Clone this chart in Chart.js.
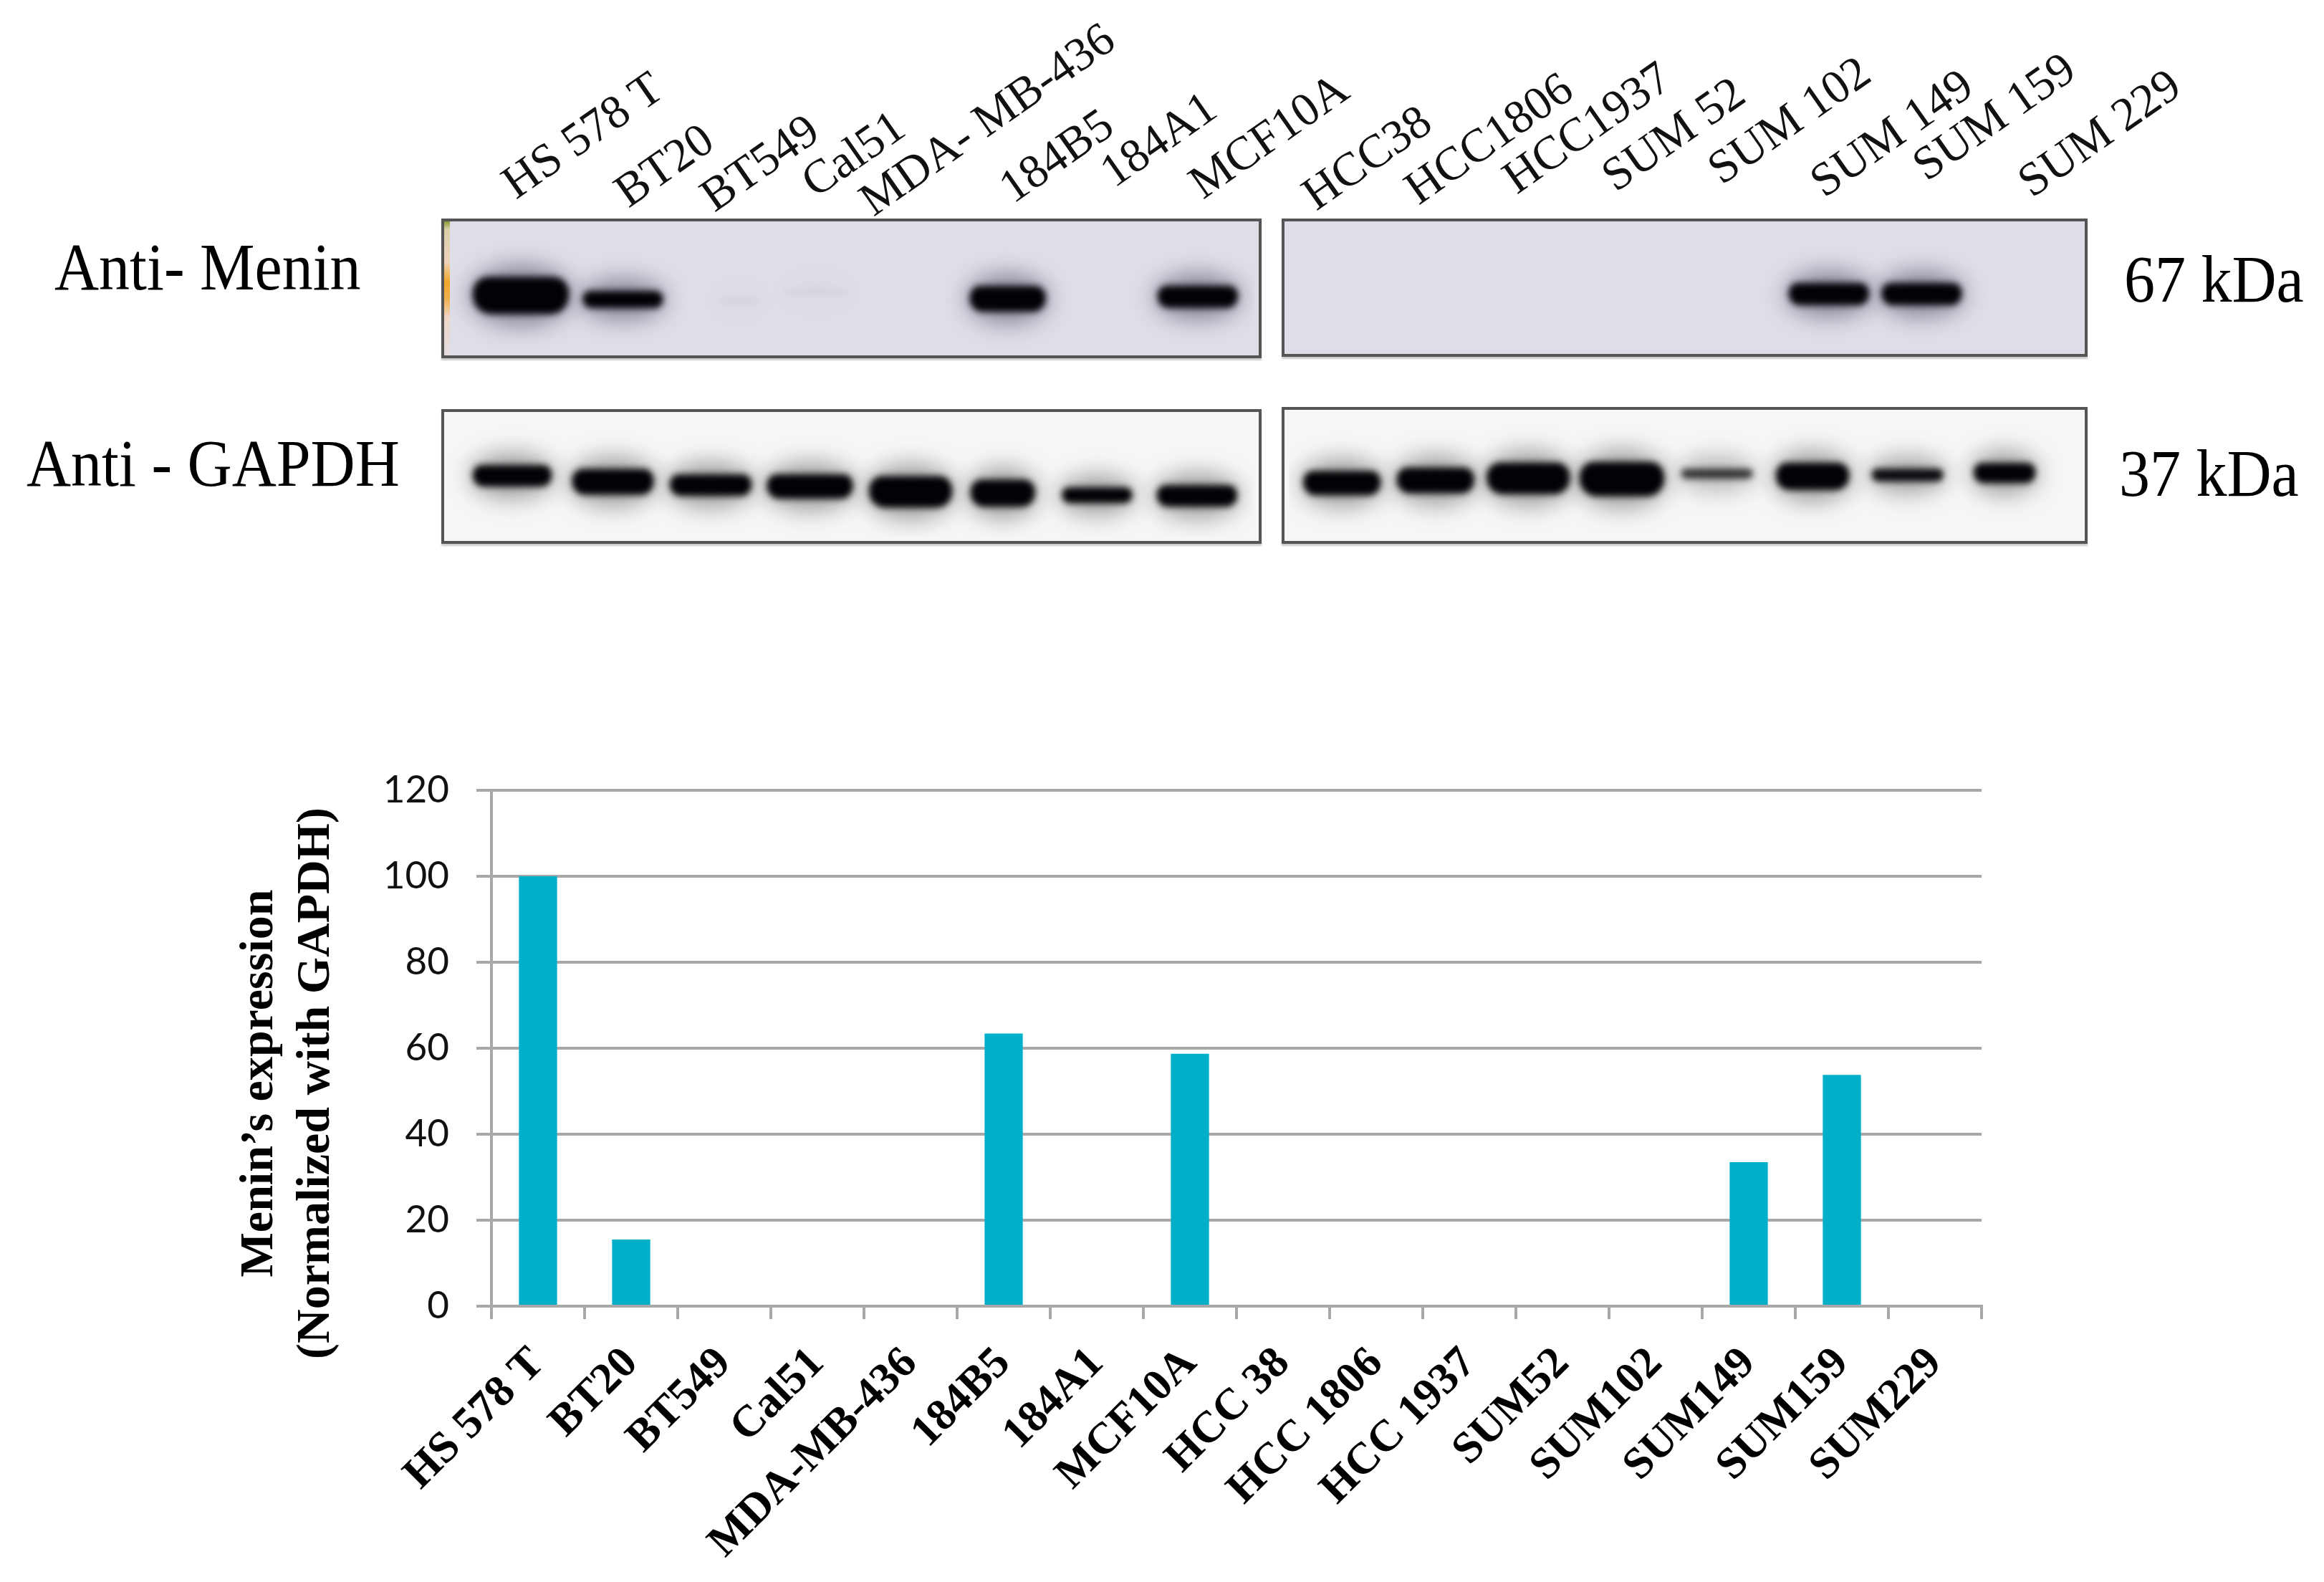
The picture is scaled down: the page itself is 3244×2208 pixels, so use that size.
<!DOCTYPE html>
<html>
<head>
<meta charset="utf-8">
<title>Menin expression</title>
<script src="https://cdn.jsdelivr.net/npm/chart.js@4"></script>
<style>
  html, body { margin: 0; padding: 0; background: #fff; }
  #page { position: relative; width: 3244px; height: 2208px; overflow: hidden; font-family: "Liberation Serif", serif; color: #000; }
  #page canvas { display: block; }
  .panel { position: absolute; box-sizing: border-box; border: 4px solid #555; box-shadow: 0 3px 2px #ccc; overflow: hidden; }
  .txt { position: absolute; white-space: nowrap; line-height: 1; }
  .lane { font-size: 66px; transform-origin: 0 0; transform: rotate(-35deg) translateY(-0.85em); color: #111; }
  .side { font-size: 86px; transform-origin: 0 0; transform: translateY(-0.92em) scaleY(1.08); }
  .ytitle { font-size: 66px; font-weight: bold; transform: translate(-50%, -50%) rotate(-90deg); }
  #barWrap { position: absolute; left: 0; top: 1033px; width: 2900px; height: 1175px; }
</style>
</head>
<body>
<div id="page">
  <div id="texts"></div>
  <div class="panel" id="pMeninL"><canvas id="cMeninL"></canvas></div>
  <div class="panel" id="pMeninR"><canvas id="cMeninR"></canvas></div>
  <div class="panel" id="pGapdhL"><canvas id="cGapdhL"></canvas></div>
  <div class="panel" id="pGapdhR"><canvas id="cGapdhR"></canvas></div>
  <div id="barWrap"><canvas id="barChart"></canvas></div>
</div>
<script>
// ── Bar chart data ───────────────────────────────────────────
const cellLines = ['HS 578 T', 'BT20', 'BT549', 'Cal51', 'MDA-MB-436', '184B5', '184A1', 'MCF10A',
    'HCC 38', 'HCC 1806', 'HCC 1937', 'SUM52', 'SUM102', 'SUM149', 'SUM159', 'SUM229'];
const meninExpression = [100, 15.5, 0, 0, 0, 63.4, 0, 58.7, 0, 0, 0, 0, 0, 33.5, 53.8, 0];
const yTickValues = [0, 20, 40, 60, 80, 100, 120];
const yTitleLines = ['Menin\u2019s expression', '(Normalized with GAPDH)'];

// ── Blot labels ──────────────────────────────────────────────
const laneLabels = ['HS 578 T', 'BT20', 'BT549', 'Cal51', 'MDA- MB-436', '184B5', '184A1', 'MCF10A',
    'HCC38', 'HCC1806', 'HCC1937', 'SUM 52', 'SUM 102', 'SUM 149', 'SUM 159', 'SUM 229'];
const laneLabelX = [721, 878, 998, 1139, 1220, 1415, 1556, 1680, 1838, 1981, 2118, 2256, 2404, 2547, 2690, 2837];
const laneLabelY = [280, 292, 298, 278, 304, 286, 264, 280, 296, 288, 273, 270, 260, 278, 255, 278];

// ── Blot bands (x, y, band size, darkness) ─
const meninLeftX = [722, 866, 1030, 1139, 1409, 1677];
const meninLeftY = [413, 419, 421, 408, 418, 415];
const meninLeftW = [134, 112, 60, 90, 106, 112];
const meninLeftH = [52, 24, 8, 8, 36, 31];
const meninLeftDark = [1, 1, 0.04, 0.04, 1, 1];

const meninRightX = [2555, 2686];
const meninRightY = [411, 411];
const meninRightW = [112, 112];
const meninRightH = [31, 31];
const meninRightDark = [1, 1];

const gapdhLeftX = [710, 852, 990, 1130, 1272, 1402, 1535, 1676];
const gapdhLeftY = [664, 673, 678, 680, 688, 690, 693, 694];
const gapdhLeftW = [110, 114, 114, 120, 116, 90, 98, 112];
const gapdhLeftH = [30, 36, 30, 34, 44, 38, 22, 30];
const gapdhLeftDark = [1, 1, 1, 1, 1, 1, 1, 1];

const gapdhRightX = [1868, 2000, 2131, 2263, 2397, 2532, 2666, 2803];
const gapdhRightY = [675, 671, 668, 669, 661, 665, 663, 660];
const gapdhRightW = [108, 108, 116, 118, 100, 102, 100, 86];
const gapdhRightH = [34, 36, 44, 48, 14, 38, 18, 28];
const gapdhRightDark = [1, 1, 1, 1, 0.75, 1, 0.95, 1];

// ── Text around the blots ────────────────────────────────────
const texts = document.getElementById('texts');
function addText(cls, str, x, y) {
    const el = document.createElement('div');
    el.className = 'txt ' + cls;
    el.textContent = str;
    el.style.left = x + 'px';
    el.style.top = y + 'px';
    texts.appendChild(el);
}
laneLabels.forEach((l, i) => addText('lane', l, laneLabelX[i], laneLabelY[i]));
addText('side', 'Anti- Menin', 76, 405);
addText('side', 'Anti - GAPDH', 37, 679);
addText('side', '67 kDa', 2965, 422);
addText('side', '37 kDa', 2958, 693);
addText('ytitle', yTitleLines[0], 358, 1512);
addText('ytitle', yTitleLines[1], 437, 1512);

// ── Blot band sprite: soft halo + dark flat-topped core ──────
function bandSprite(w, h, dark, haloColor) {
    const size = Math.max(w, h) + 160;
    const c = document.createElement('canvas');
    c.width = size;
    c.height = size;
    const ctx = c.getContext('2d');
    const cx = size / 2;
    ctx.filter = 'blur(16px)';
    ctx.fillStyle = haloColor;
    ctx.globalAlpha = dark * 0.5;
    ctx.beginPath();
    ctx.ellipse(cx, cx, w / 2 + 4, h / 2 + 16, 0, 0, Math.PI * 2);
    ctx.fill();
    ctx.filter = 'blur(5px)';
    ctx.fillStyle = '#020206';
    ctx.globalAlpha = dark;
    ctx.beginPath();
    ctx.roundRect(cx - w / 2, cx - h / 2, w, h, [h * 0.42, h * 0.42, h * 0.5, h * 0.5]);
    ctx.fill();
    return c;
}

function createBlot(name, box, background, xs, ys, ws, hs, darks, haloColor) {
    const panel = document.getElementById('p' + name);
    panel.style.left = box.left + 'px';
    panel.style.top = box.top + 'px';
    panel.style.width = (box.right - box.left) + 'px';
    panel.style.height = (box.bottom - box.top) + 'px';
    panel.style.background = background;
    const sprites = xs.map((_, i) => bandSprite(ws[i], hs[i], darks[i], haloColor));
    return new Chart(document.getElementById('c' + name), {
        type: 'scatter',
        data: {
            datasets: [{
                data: xs.map((x, i) => ({ x, y: ys[i] })),
                pointStyle: ctx => sprites[ctx.dataIndex],
                pointRadius: 5
            }]
        },
        options: {
            responsive: true,
            maintainAspectRatio: false,
            animation: false,
            devicePixelRatio: 1,
            plugins: { legend: { display: false }, tooltip: { enabled: false } },
            layout: { padding: 0 },
            scales: {
                x: { display: false, min: box.left + 4, max: box.right - 4 },
                y: { display: false, min: box.top + 4, max: box.bottom - 4, reverse: true }
            }
        }
    });
}

const meninBg = '#dedee8';
const meninEdge = 'linear-gradient(to bottom,#8d9a34 0,#d8cfa8 6%,#efd2bc 30%,#f0a828 45%,#f2b050 58%,#efd6c8 72%,#e4dce0 100%) left top / 8px 100% no-repeat, ' + meninBg;
const gapdhBg = '#f6f6f6';

createBlot('MeninL', { left: 616, top: 305, right: 1761, bottom: 500 }, meninEdge,
    meninLeftX, meninLeftY, meninLeftW, meninLeftH, meninLeftDark, '#2c2a44');
createBlot('MeninR', { left: 1789, top: 305, right: 2914, bottom: 498 }, meninBg,
    meninRightX, meninRightY, meninRightW, meninRightH, meninRightDark, '#2c2a44');
createBlot('GapdhL', { left: 616, top: 571, right: 1761, bottom: 759 }, gapdhBg,
    gapdhLeftX, gapdhLeftY, gapdhLeftW, gapdhLeftH, gapdhLeftDark, '#444444');
createBlot('GapdhR', { left: 1789, top: 568, right: 2914, bottom: 759 }, gapdhBg,
    gapdhRightX, gapdhRightY, gapdhRightW, gapdhRightH, gapdhRightDark, '#444444');

// ── Bar chart ────────────────────────────────────────────────
new Chart(document.getElementById('barChart'), {
    type: 'bar',
    data: {
        labels: cellLines,
        datasets: [{
            data: meninExpression,
            backgroundColor: '#00afc8',
            categoryPercentage: 1,
            barPercentage: 0.41
        }]
    },
    options: {
        responsive: true,
        maintainAspectRatio: false,
        animation: false,
        devicePixelRatio: 1,
        plugins: { legend: { display: false }, tooltip: { enabled: false } },
        // top padding has to clear half a tick label + ticks.padding, or the axis gets pushed down
        layout: { padding: { top: 70, right: 134 } },
        scales: {
            x: {
                afterFit: s => { s.height = 385; },
                border: { color: '#a8a8a8', width: 4 },
                grid: { drawOnChartArea: false, color: '#a8a8a8', lineWidth: 4, tickLength: 18, offset: true },
                ticks: {
                    autoSkip: false,
                    minRotation: 45,
                    maxRotation: 45,
                    padding: 26,
                    color: '#000',
                    font: { family: "'Liberation Serif', serif", weight: 'bold', size: 62 }
                }
            },
            y: {
                min: 0,
                max: 120,
                afterFit: s => { s.width = 686; },
                afterBuildTicks: s => { s.ticks = yTickValues.map(value => ({ value })); },
                border: { color: '#a8a8a8', width: 4 },
                grid: { color: '#a8a8a8', lineWidth: 4, tickLength: 21 },
                ticks: {
                    padding: 38,
                    color: '#111',
                    font: { family: 'Lato, sans-serif', size: 53 }
                }
            }
        }
    }
});
</script>
</body>
</html>
